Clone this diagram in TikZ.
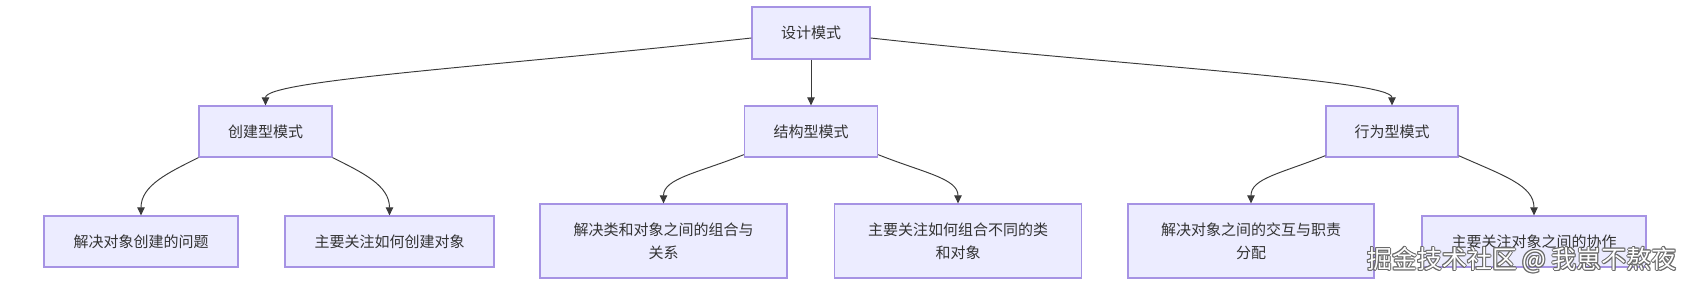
\documentclass[tikz,border=0pt]{standalone}
\usepackage{fontspec}
\setmainfont{Noto Sans CJK SC}
\usetikzlibrary{arrows.meta}
\definecolor{nodefill}{HTML}{ECECFF}
\definecolor{nodeline}{HTML}{A693E4}
\definecolor{edgeline}{HTML}{3A3A3A}
\definecolor{txt}{HTML}{333333}
\definecolor{wmline}{HTML}{6A6A6A}
\begin{document}
\begin{tikzpicture}[x=1pt,y=-1pt,
  box/.style={draw=nodeline, fill=nodefill, line width=1.3pt, text=txt,
    font=\fontsize{15}{23}\selectfont, align=center, inner sep=0pt},
  one/.style={box, minimum height=51pt},
  two/.style={box, minimum height=74pt, minimum width=247pt},
  edge/.style={draw=edgeline, line width=0.95pt, -{Triangle[length=8pt,width=7.5pt]}},
  wm/.style={font=\fontsize{25}{25}\selectfont, inner sep=0pt}]
\useasboundingbox[fill=white] (0,0) rectangle (1690,286);

% level 0
\node[box, minimum width=118pt, minimum height=52pt] (top) at (811,33) {设计模式};
% level 1
\node[one, minimum width=133pt] (cj) at (265.5,131.5) {创建型模式};
\node[one, minimum width=133pt] (jg) at (811,131.5) {结构型模式};
\node[one, minimum width=132pt] (xw) at (1392,131.5) {行为型模式};
% level 2
\node[one, minimum width=194pt] (cj1) at (141,241.5) {解决对象创建的问题};
\node[one, minimum width=209pt] (cj2) at (389.5,241.5) {主要关注如何创建对象};
\node[two] (jg1) at (663.5,241) {解决类和对象之间的组合与\\关系};
\node[two] (jg2) at (958,241) {主要关注如何组合不同的类\\和对象};
\node[two, minimum width=246pt] (xw1) at (1251,241) {解决对象之间的交互与职责\\分配};
\node[one, minimum width=224pt] (xw2) at (1534,241.5) {主要关注对象之间的协作};

% edges
\draw[edge] ([yshift=-5pt]top.west) .. controls (500,66) and (265.5,80) .. (cj.north);
\draw[edge] (top.south) -- (jg.north);
\draw[edge] ([yshift=-5pt]top.east) .. controls (1125,66) and (1392,80) .. (xw.north);

\draw[edge] (cj.south west) .. controls +(-30,15) and +(0,-30) .. (cj1.north);
\draw[edge] (cj.south east) .. controls +(30,15) and +(0,-30) .. (cj2.north);
\draw[edge] ([yshift=3pt]jg.south west) .. controls +(-45,18) and +(0,-25) .. (jg1.north);
\draw[edge] ([yshift=3pt]jg.south east) .. controls +(45,18) and +(0,-25) .. (jg2.north);
\draw[edge] ([yshift=2pt]xw.south west) .. controls +(-45,18) and +(0,-25) .. (xw1.north);
\draw[edge] ([yshift=2pt]xw.south east) .. controls +(45,20) and +(0,-30) .. (xw2.north);

% watermark
\foreach \dx/\dy [count=\i] in {1/0,-1/0,0/1,0/-1,0.8/0.8,-0.8/0.8,0.8/-0.8,-0.8/-0.8}
  \node[wm, text=wmline] (wms\i) at (1522+\dx,260+\dy) {掘金技术社区 @ 我崽不熬夜};
\node[wm, text=white] (wm) at (1522,260) {掘金技术社区 @ 我崽不熬夜};
\end{tikzpicture}
\end{document}
